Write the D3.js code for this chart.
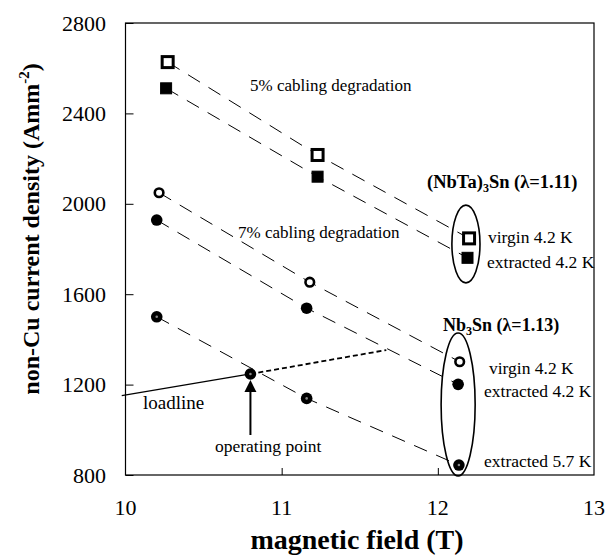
<!DOCTYPE html>
<html>
<head>
<meta charset="utf-8">
<script src="https://cdn.jsdelivr.net/npm/d3@7/dist/d3.min.js"></script>
<style>
  body { margin: 0; background: #fff; }
  text { font-family: "Liberation Serif", "DejaVu Serif", serif; fill: #000; }
</style>
</head>
<body>
<svg id="chart" width="608" height="555"></svg>
<script>
  // values
  var xTicks = [ 10, 11, 12, 13 ];
  var yTicks = [ 800, 1200, 1600, 2000, 2400, 2800 ];

  var nbtaVirginB   = [ 10.27, 11.23, 12.20 ];
  var nbtaVirginJ   = [ 2627, 2216, 1847 ];
  var nbtaExtrB     = [ 10.26, 11.23, 12.19 ];
  var nbtaExtrJ     = [ 2511, 2120, 1761 ];
  var nb3VirginB    = [ 10.215, 11.18, 12.14 ];
  var nb3VirginJ    = [ 2049, 1653, 1301 ];
  var nb3ExtrB      = [ 10.20, 11.16, 12.13 ];
  var nb3ExtrJ      = [ 1928, 1538, 1201 ];
  var nb3Extr57B    = [ 10.20, 11.16, 12.135 ];
  var nb3Extr57J    = [ 1500, 1139, 844 ];

  var loadlineSolid = [ [ 9.976, 1151 ], [ 10.80, 1247 ] ];
  var loadlineDash  = [ [ 10.80, 1247 ], [ 11.67, 1353 ] ];
  var operatingPt   = [ 10.80, 1247 ];

  var svg = d3.select( "#chart" );
  var plotL = 125.5, plotR = 594, plotT = 23, plotB = 475;

  var x = d3.scaleLinear().domain( [ 10, 13 ] ).range( [ plotL, plotR ] );
  var y = d3.scaleLinear().domain( [ 800, 2800 ] ).range( [ plotB, plotT ] );

  function pairs ( xs, ys ) {
    var out = [];
    for ( var i = 0 ; i < xs.length ; i++ )
      out.push( [ xs[i], ys[i] ] );
    return out;
  }

  var line = d3.line()
    .x( function (d) { return x(d[0]); } )
    .y( function (d) { return y(d[1]); } );

  // frame
  svg.append( "rect" )
    .attr( "x", plotL ).attr( "y", plotT )
    .attr( "width", plotR - plotL ).attr( "height", plotB - plotT )
    .attr( "fill", "none" ).attr( "stroke", "#000" ).attr( "stroke-width", 1.2 );

  // inward ticks
  var yAxis = d3.axisRight( y ).tickValues( yTicks ).tickSize( 8 ).tickFormat( "" );
  svg.append( "g" ).attr( "transform", "translate(" + plotL + ",0)" ).call( yAxis )
    .call( function (g) { g.select( ".domain" ).remove(); } );
  var xAxis = d3.axisTop( x ).tickValues( [ 11, 12 ] ).tickSize( 7 ).tickFormat( "" );
  svg.append( "g" ).attr( "transform", "translate(0," + plotB + ")" ).call( xAxis )
    .call( function (g) { g.select( ".domain" ).remove(); } );

  // tick labels
  svg.selectAll( ".ylab" ).data( yTicks ).enter().append( "text" )
    .attr( "x", 106 ).attr( "y", function (d) { return y(d) + 7.5; } )
    .attr( "text-anchor", "end" ).attr( "font-size", 22 )
    .text( function (d) { return d; } );
  svg.selectAll( ".xlab" ).data( xTicks ).enter().append( "text" )
    .attr( "x", function (d) { return x(d); } ).attr( "y", 515 )
    .attr( "text-anchor", "middle" ).attr( "font-size", 22 )
    .text( function (d) { return d; } );

  // axis titles
  svg.append( "text" )
    .attr( "x", 357 ).attr( "y", 549 )
    .attr( "text-anchor", "middle" ).attr( "font-size", 28 ).attr( "font-weight", "bold" )
    .text( "magnetic field (T)" );
  var yt = svg.append( "text" )
    .attr( "transform", "translate(39,229) rotate(-90)" )
    .attr( "text-anchor", "middle" ).attr( "font-size", 24 ).attr( "font-weight", "bold" );
  yt.append( "tspan" ).text( "non-Cu current density (Amm" );
  yt.append( "tspan" ).attr( "dy", -10 ).attr( "font-size", 15 ).text( "-2" );
  yt.append( "tspan" ).attr( "dy", 10 ).text( ")" );

  // dashed connecting lines
  var series = [
    pairs( nbtaVirginB, nbtaVirginJ ),
    pairs( nbtaExtrB, nbtaExtrJ ),
    pairs( nb3VirginB, nb3VirginJ ),
    pairs( nb3ExtrB, nb3ExtrJ ),
    pairs( nb3Extr57B, nb3Extr57J )
  ];
  svg.selectAll( ".fit" ).data( series ).enter().append( "path" )
    .attr( "d", line )
    .attr( "fill", "none" ).attr( "stroke", "#000" ).attr( "stroke-width", 1 )
    .attr( "stroke-dasharray", "14,10" );

  // loadline
  svg.append( "path" ).attr( "d", line( loadlineSolid ) )
    .attr( "fill", "none" ).attr( "stroke", "#000" ).attr( "stroke-width", 1.3 );
  svg.append( "path" ).attr( "d", line( loadlineDash ) )
    .attr( "fill", "none" ).attr( "stroke", "#000" ).attr( "stroke-width", 1.8 )
    .attr( "stroke-dasharray", "5,3" );

  // markers
  function squares ( data, open ) {
    svg.selectAll( null ).data( data ).enter().append( "rect" )
      .attr( "x", function (d) { return x(d[0]) - 5.5; } )
      .attr( "y", function (d) { return y(d[1]) - 5.5; } )
      .attr( "width", 11 ).attr( "height", 11 )
      .attr( "fill", open ? "#fff" : "#000" )
      .attr( "stroke", "#000" ).attr( "stroke-width", open ? 3 : 1 );
  }
  function circles ( data, kind ) {
    var g = svg.selectAll( null ).data( data ).enter();
    g.append( "circle" )
      .attr( "cx", function (d) { return x(d[0]); } )
      .attr( "cy", function (d) { return y(d[1]); } )
      .attr( "r", kind == "open" ? 4.3 : 5.8 )
      .attr( "fill", kind == "open" ? "#fff" : "#000" )
      .attr( "stroke", "#000" ).attr( "stroke-width", kind == "open" ? 2.6 : 0 );
    if ( kind == "dot" )
      g.append( "circle" )
        .attr( "cx", function (d) { return x(d[0]); } )
        .attr( "cy", function (d) { return y(d[1]); } )
        .attr( "r", 1.3 ).attr( "fill", "#888" );
  }
  squares( series[0], true );
  squares( series[1], false );
  circles( series[2], "open" );
  circles( series[3], "filled" );
  circles( series[4], "dot" );
  circles( [ operatingPt ], "dot" );

  // ellipses around the 12 T points
  svg.append( "ellipse" )
    .attr( "cx", x( 12.18 ) ).attr( "cy", y( 1822 ) )
    .attr( "rx", x( 12.27 ) - x( 12.18 ) ).attr( "ry", y( 1822 ) - y( 1994 ) )
    .attr( "fill", "none" ).attr( "stroke", "#000" ).attr( "stroke-width", 1.6 );
  svg.append( "ellipse" )
    .attr( "cx", x( 12.13 ) ).attr( "cy", y( 1112 ) )
    .attr( "rx", x( 12.239 ) - x( 12.13 ) ).attr( "ry", y( 1112 ) - y( 1428 ) )
    .attr( "fill", "none" ).attr( "stroke", "#000" ).attr( "stroke-width", 1.6 );

  // arrow to operating point
  svg.append( "line" )
    .attr( "x1", x( operatingPt[0] ) ).attr( "x2", x( operatingPt[0] ) )
    .attr( "y1", y( 977 ) ).attr( "y2", y( 1170 ) )
    .attr( "stroke", "#000" ).attr( "stroke-width", 2 );
  var ax = x( operatingPt[0] ), ay = y( 1220 );
  svg.append( "path" )
    .attr( "d", "M" + ax + "," + ay + "L" + ( ax - 6 ) + "," + ( ay + 12 ) + "L" + ( ax + 6 ) + "," + ( ay + 12 ) + "Z" )
    .attr( "fill", "#000" );

  // annotations
  function note ( tx, ty, str, size, bold ) {
    return svg.append( "text" ).attr( "x", tx ).attr( "y", ty )
      .attr( "font-size", size ).attr( "font-weight", bold ? "bold" : "normal" )
      .text( str );
  }
  note( 250, 91, "5% cabling degradation", 17 );
  note( 238, 238, "7% cabling degradation", 17 );
  note( 143, 409, "loadline", 19 );
  note( 215, 452, "operating point", 17.5 );
  note( 488, 243, "virgin 4.2 K", 17.5 );
  note( 487, 268, "extracted 4.2 K", 17.5 );
  note( 489, 374, "virgin 4.2 K", 17.5 );
  note( 484, 397, "extracted 4.2 K", 17.5 );
  note( 484, 467, "extracted 5.7 K", 17.5 );

  var t1 = svg.append( "text" ).attr( "x", 427 ).attr( "y", 188 )
    .attr( "font-size", 18.5 ).attr( "font-weight", "bold" );
  t1.append( "tspan" ).text( "(NbTa)" );
  t1.append( "tspan" ).attr( "dy", 4 ).attr( "font-size", 12 ).text( "3" );
  t1.append( "tspan" ).attr( "dy", -4 ).text( "Sn (\u03bb=1.11)" );

  var t2 = svg.append( "text" ).attr( "x", 443 ).attr( "y", 331 )
    .attr( "font-size", 18 ).attr( "font-weight", "bold" );
  t2.append( "tspan" ).text( "Nb" );
  t2.append( "tspan" ).attr( "dy", 4 ).attr( "font-size", 12 ).text( "3" );
  t2.append( "tspan" ).attr( "dy", -4 ).text( "Sn (\u03bb=1.13)" );
</script>
</body>
</html>
